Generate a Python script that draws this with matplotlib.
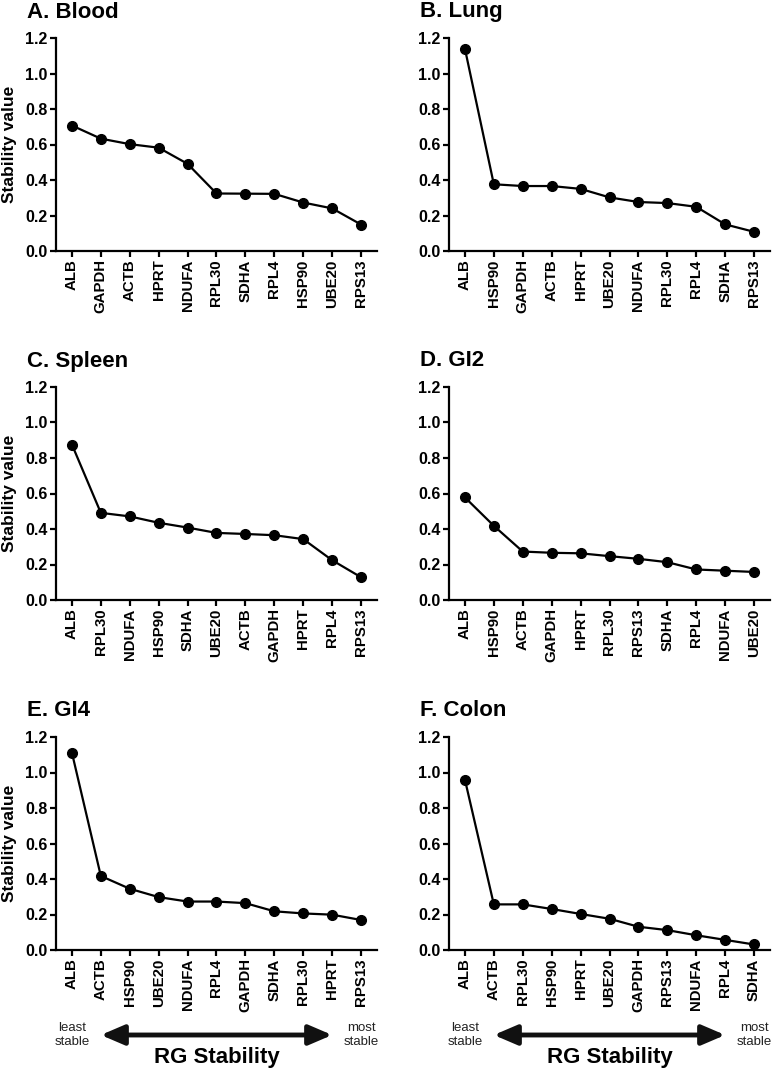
import matplotlib
matplotlib.use("Agg")
import matplotlib.pyplot as plt
import matplotlib.transforms as mtransforms

plt.rcParams["font.family"] = ["Liberation Sans", "DejaVu Sans"]

# genes ordered from least to most stable, per tissue
blood_genes = ["ALB", "GAPDH", "ACTB", "HPRT", "NDUFA", "RPL30", "SDHA", "RPL4", "HSP90", "UBE20", "RPS13"]
blood_vals = [0.707, 0.633, 0.602, 0.582, 0.491, 0.324, 0.323, 0.322, 0.273, 0.240, 0.149]

lung_genes = ["ALB", "HSP90", "GAPDH", "ACTB", "HPRT", "UBE20", "NDUFA", "RPL30", "RPL4", "SDHA", "RPS13"]
lung_vals = [1.140, 0.376, 0.366, 0.366, 0.350, 0.302, 0.276, 0.270, 0.249, 0.150, 0.108]

spleen_genes = ["ALB", "RPL30", "NDUFA", "HSP90", "SDHA", "UBE20", "ACTB", "GAPDH", "HPRT", "RPL4", "RPS13"]
spleen_vals = [0.876, 0.491, 0.471, 0.435, 0.408, 0.378, 0.372, 0.365, 0.343, 0.224, 0.128]

gi2_genes = ["ALB", "HSP90", "ACTB", "GAPDH", "HPRT", "RPL30", "RPS13", "SDHA", "RPL4", "NDUFA", "UBE20"]
gi2_vals = [0.578, 0.418, 0.273, 0.266, 0.263, 0.247, 0.232, 0.213, 0.172, 0.165, 0.158]

gi4_genes = ["ALB", "ACTB", "HSP90", "UBE20", "NDUFA", "RPL4", "GAPDH", "SDHA", "RPL30", "HPRT", "RPS13"]
gi4_vals = [1.112, 0.417, 0.345, 0.298, 0.273, 0.273, 0.264, 0.218, 0.206, 0.199, 0.169]

colon_genes = ["ALB", "ACTB", "RPL30", "HSP90", "HPRT", "UBE20", "GAPDH", "RPS13", "NDUFA", "RPL4", "SDHA"]
colon_vals = [0.960, 0.257, 0.257, 0.231, 0.203, 0.176, 0.131, 0.112, 0.083, 0.057, 0.031]

titles = ["A. Blood", "B. Lung", "C. Spleen", "D. GI2", "E. GI4", "F. Colon"]
gene_sets = [blood_genes, lung_genes, spleen_genes, gi2_genes, gi4_genes, colon_genes]
value_sets = [blood_vals, lung_vals, spleen_vals, gi2_vals, gi4_vals, colon_vals]
y_ticks = [0.0, 0.2, 0.4, 0.6, 0.8, 1.0, 1.2]

W, H = 774, 1070
fig = plt.figure(figsize=(W / 100, H / 100), dpi=100)

col_left = [56, 449]
row_top = [38, 387, 737]
ax_w, ax_h = 321, 213

axes = []
for i in range(6):
    r, c = divmod(i, 2)
    left = col_left[c] / W
    bottom = 1 - (row_top[r] + ax_h) / H
    ax = fig.add_axes([left, bottom, ax_w / W, ax_h / H])
    axes.append(ax)

    genes = gene_sets[i]
    vals = value_sets[i]
    x = list(range(len(genes)))
    ax.plot(x, vals, color="black", lw=1.6, marker="o", ms=7, clip_on=False, zorder=3)

    ax.set_xlim(-0.55, 10.55)
    ax.set_ylim(0, 1.2)
    ax.set_yticks(y_ticks)
    ax.set_yticklabels([f"{t:.1f}" for t in y_ticks], fontsize=11.5, fontweight="bold")
    ax.set_xticks(x)
    ax.set_xticklabels(genes, rotation=90, fontsize=10.8, fontweight="bold")
    for s in ["top", "right"]:
        ax.spines[s].set_visible(False)
    for s in ["left", "bottom"]:
        ax.spines[s].set_linewidth(1.6)
    ax.tick_params(axis="both", direction="out", length=4.5, width=1.6, pad=1.5)

    # panel title
    tx = (27 if c == 0 else 420) / W
    ty = 1 - (row_top[r] - 26) / H
    fig.text(tx, ty, titles[i], fontsize=16, fontweight="bold", ha="left", va="center")

    if c == 0:
        fig.text(10 / W, 1 - (row_top[r] + ax_h / 2) / H, "Stability value",
                 rotation=90, fontsize=12.5, fontweight="bold", ha="center", va="center")

# stability direction arrows under the bottom row
for ax in axes[4:]:
    trans = mtransforms.blended_transform_factory(ax.transData, fig.transFigure)
    y_arrow = 1 - 1035 / H
    ax.annotate("", xy=(9, y_arrow), xytext=(1, y_arrow), xycoords=trans, textcoords=trans,
                arrowprops=dict(arrowstyle="<|-|>,head_length=1.4,head_width=0.6",
                                lw=3.5, color="#111111", shrinkA=0, shrinkB=0),
                annotation_clip=False)
    ax.text(0, y_arrow, "least\nstable", transform=trans, ha="center", va="center",
            fontsize=9.5, color="#222222", linespacing=1.3)
    ax.text(10, y_arrow, "most\nstable", transform=trans, ha="center", va="center",
            fontsize=9.5, color="#222222", linespacing=1.3)
    ax.text(5, 1 - 1058 / H, "RG Stability", transform=trans, ha="center", va="center",
            fontsize=16, fontweight="bold")

fig.savefig("out.png", dpi=100)
